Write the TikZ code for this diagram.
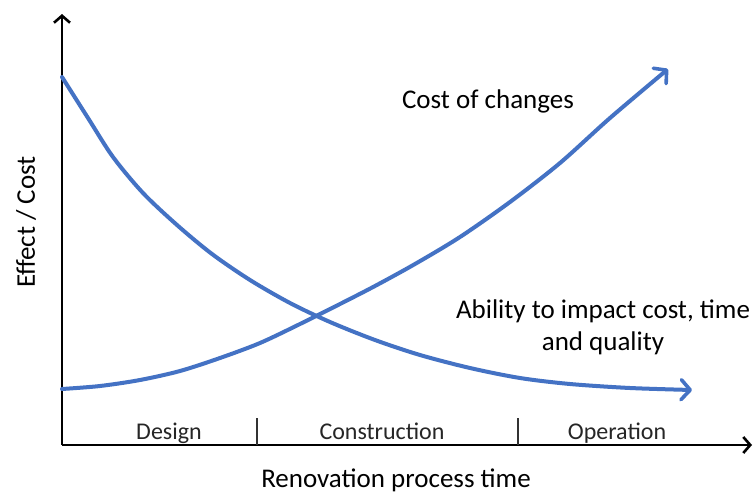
\documentclass[tikz,border=0pt]{standalone}
\usepackage{fontspec}
\setmainfont{Carlito}
\usetikzlibrary{arrows.meta}
\definecolor{curveblue}{HTML}{4472C4}
\tikzset{
  axis/.style={line width=2.8pt, -{Straight Barb[length=7pt,width=16pt,line width=2.6pt]}},
  curve/.style={curveblue, line width=4pt, line cap=round, line join=round, -{Straight Barb[length=9pt,width=20pt,line width=3.6pt,round]}},
  phase/.style={font=\fontsize{24}{28}\selectfont, text=black!85, anchor=base},
  lab/.style={font=\fontsize{27}{33}\selectfont, anchor=base, align=center},
  divider/.style={line width=1.3pt, black!80}
}
\begin{document}
\begin{tikzpicture}[x=1pt,y=-1pt]
\useasboundingbox (0,0) rectangle (753,493);
\clip (0,0) rectangle (753,493);
\fill[white] (0,0) rectangle (753,493);
% axes
\coordinate (O) at (62,445);
\coordinate (Ytop) at (62,14);
\coordinate (Xend) at (752,445);
\draw[axis] (O) -- (Ytop);
\draw[axis] (O) -- (Xend);
% phase dividers
\coordinate (d1t) at (257,418); \coordinate (d1b) at (257,445);
\coordinate (d2t) at (518,418); \coordinate (d2b) at (518,445);
\draw[divider] (d1t) -- (d1b);
\draw[divider] (d2t) -- (d2b);
% phase labels
\node[phase] (design) at (169,439) {Design};
\node[phase] (constr) at (382,439) {Construction};
\node[phase] (oper) at (617,439) {Operation};
% axis labels
\node[lab] (xlab) at (396,487) {Renovation process time};
\node[lab, rotate=90, anchor=center] (ylab) at (26,222) {Effect / Cost};
% curves
\coordinate (decEnd) at (692,390);
\coordinate (incEnd) at (668,69);
\draw[curve] plot[smooth, tension=0.5] coordinates {(62,77) (88,118) (113,157) (143,193) (177,225) (212,254) (250,280) (290,303) (330,322) (375,340) (420,355) (470,368) (520,378) (570,384) (630,388) (decEnd)};
\draw[curve] plot[smooth, tension=0.5] coordinates {(62,389) (100,386) (140,380) (180,371) (220,358) (260,343) (300,324) (340,304) (375,286) (415,264) (460,237) (510,202) (560,163) (610,118) (incEnd)};
% curve labels
\node[lab] (cost) at (488,108) {Cost of changes};
\node[lab] (abil1) at (603,318) {Ability to impact cost, time};
\node[lab] (abil2) at (603,350) {and quality};
\end{tikzpicture}
\end{document}
